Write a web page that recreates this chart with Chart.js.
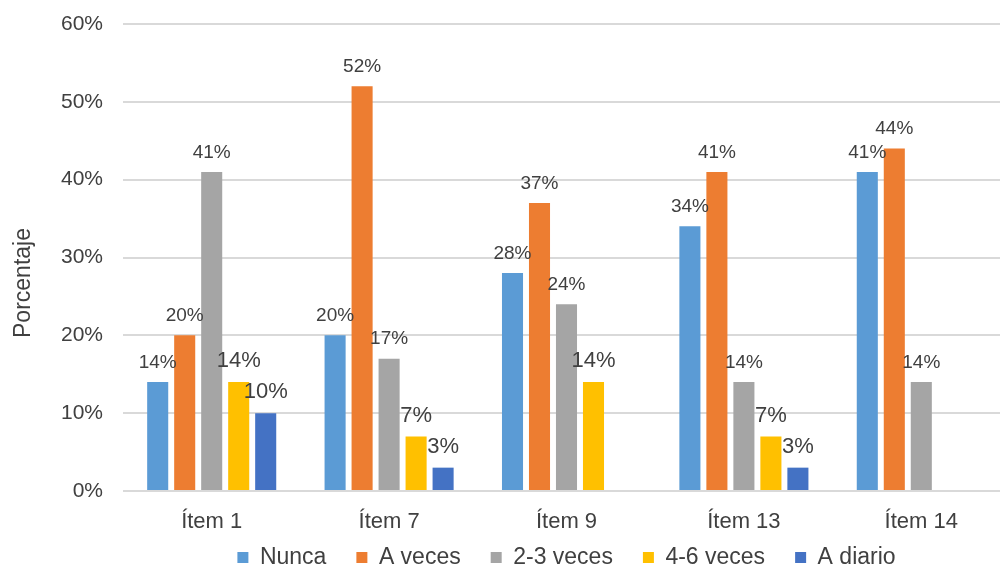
<!DOCTYPE html>
<html lang="es">
<head>
<meta charset="utf-8">
<title>Porcentaje por ítem</title>
<script src="https://cdn.jsdelivr.net/npm/chart.js@4.4.1/dist/chart.umd.min.js"></script>
<style>
  html, body { margin: 0; padding: 0; background: #fff; overflow: hidden; }
  #contenedor { width: 1020px; height: 569px; }
  #grafico { display: block; }
</style>
</head>
<body>
<div id="contenedor"><canvas id="grafico" width="1020" height="569"></canvas></div>
<script>
// datos por ítem (null = sin respuesta en esa frecuencia)
const items = ['Ítem 1', 'Ítem 7', 'Ítem 9', 'Ítem 13', 'Ítem 14'];
const nunca = [14, 20, 28, 34, 41];
const aVeces = [20, 52, 37, 41, 44];
const dosTres = [41, 17, 24, 14, 14];
const cuatroSeis = [14, 7, 14, 7, null];
const aDiario = [10, 3, null, 3, null];
const ticksY = [0, 10, 20, 30, 40, 50, 60];

const FUENTE = '"Liberation Sans", Arial, sans-serif';
const GRIS_TEXTO = '#404040';

// porcentaje encima de cada barra
const etiquetas = {
  id: 'etiquetas',
  afterDatasetsDraw(chart) {
    const ctx = chart.ctx;
    ctx.save();
    ctx.fillStyle = GRIS_TEXTO;
    ctx.textAlign = 'center';
    ctx.textBaseline = 'bottom';
    chart.data.datasets.forEach((ds, i) => {
      const meta = chart.getDatasetMeta(i);
      ctx.font = ds.tamEtiqueta + 'px ' + FUENTE;
      meta.data.forEach((barra, j) => {
        const v = ds.data[j];
        if (v == null) return;
        ctx.fillText(v + '%', barra.x, barra.y - 10);
      });
    });
    ctx.restore();
  }
};

// título del eje vertical
const tituloEjeY = {
  id: 'tituloEjeY',
  afterDraw(chart) {
    const ctx = chart.ctx;
    ctx.save();
    ctx.translate(24, 283);
    ctx.rotate(-Math.PI / 2);
    ctx.font = '23px ' + FUENTE;
    ctx.fillStyle = GRIS_TEXTO;
    ctx.textAlign = 'center';
    ctx.textBaseline = 'middle';
    ctx.fillText('Porcentaje', 0, 0);
    ctx.restore();
  }
};

// la leyenda va más pegada a las etiquetas del eje x
// (la caja llega hasta el borde inferior porque la leyenda recorta su dibujo)
const subirLeyenda = {
  id: 'subirLeyenda',
  afterLayout(chart) {
    const l = chart.legend;
    l.top = 516;
    l.bottom = chart.height;
    l.height = l.bottom - l.top;
  }
};

const serie = (label, data, color, tam) => ({
  label: label,
  data: data,
  backgroundColor: color,
  borderWidth: 0,
  categoryPercentage: 0.761,
  barPercentage: 0.78,
  tamEtiqueta: tam
});

new Chart(document.getElementById('grafico'), {
  type: 'bar',
  data: {
    labels: items,
    datasets: [
      serie('Nunca', nunca, '#5B9BD5', 19),
      serie('A veces', aVeces, '#ED7D31', 19),
      serie('2-3 veces', dosTres, '#A5A5A5', 19),
      serie('4-6 veces', cuatroSeis, '#FFC000', 22),
      serie('A diario', aDiario, '#4472C4', 22)
    ]
  },
  options: {
    responsive: false,
    devicePixelRatio: 1,
    animation: false,
    layout: { padding: { top: 24, right: 10, left: 0, bottom: 0 } },
    plugins: {
      tooltip: { enabled: false },
      legend: {
        position: 'bottom',
        fullSize: false,
        maxHeight: 28,
        labels: {
          boxWidth: 11,
          boxHeight: 11,
          padding: 30,
          color: GRIS_TEXTO,
          font: { family: FUENTE, size: 23 }
        }
      }
    },
    scales: {
      x: {
        grid: { display: false },
        border: { display: false },
        ticks: { color: GRIS_TEXTO, padding: 10, font: { family: FUENTE, size: 22 } },
        afterFit: (s) => { s.height = 50; }
      },
      y: {
        min: 0,
        max: 60,
        grid: { color: '#d9d9d9', lineWidth: 2, drawTicks: false },
        border: { display: false },
        ticks: {
          color: GRIS_TEXTO,
          padding: 20,
          font: { family: FUENTE, size: 21 },
          callback: (v) => v + '%'
        },
        afterBuildTicks: (s) => { s.ticks = ticksY.map(v => ({ value: v })); },
        afterFit: (s) => {
          s.width = 123;
          s.paddingTop = 0;
          s.paddingBottom = 0;
        }
      }
    }
  },
  plugins: [etiquetas, tituloEjeY, subirLeyenda]
});
</script>
</body>
</html>
